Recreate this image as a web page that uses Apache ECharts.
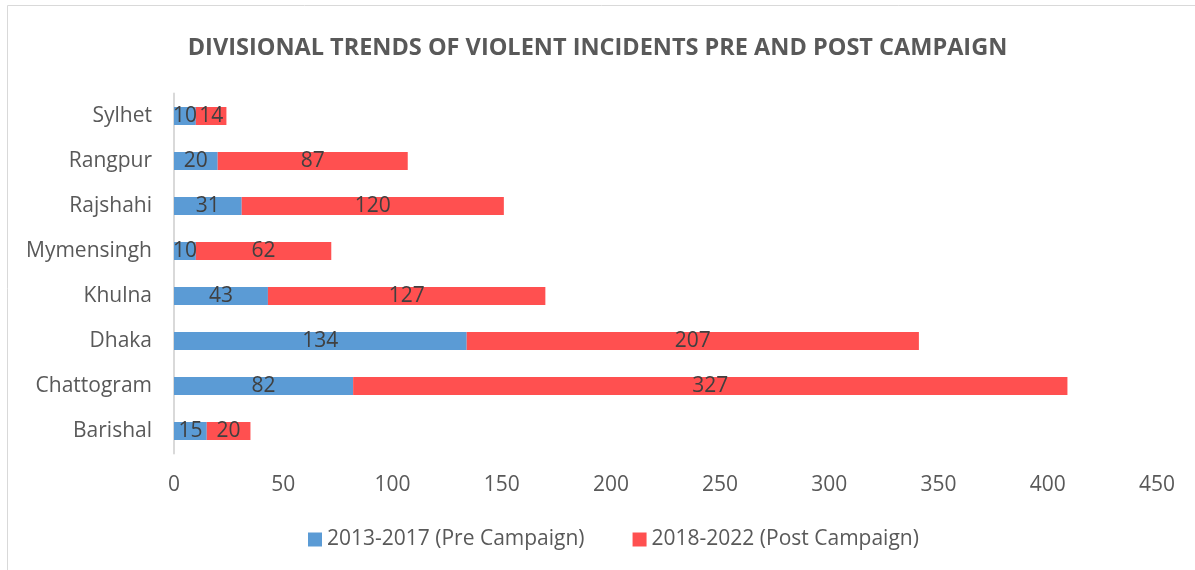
<!DOCTYPE html>
<html>
<head>
<meta charset="utf-8">
<script src="https://cdn.jsdelivr.net/npm/echarts@6/dist/echarts.min.js"></script>
<style>
  html, body { margin: 0; padding: 0; background: #fff; }
  #chart { width: 1195px; height: 570px; }
</style>
</head>
<body>
<div id="chart"></div>
<script>
// bottom to top, as the y axis draws them
var divisions = ['Barishal', 'Chattogram', 'Dhaka', 'Khulna', 'Mymensingh', 'Rajshahi', 'Rangpur', 'Sylhet']
var preCampaign = [15, 82, 134, 43, 10, 31, 20, 10]
var postCampaign = [20, 327, 207, 127, 62, 120, 87, 14]
var seriesNames = ['2013-2017 (Pre Campaign)', '2018-2022 (Post Campaign)']

var font = 'Open Sans'
var chart = echarts.init(document.getElementById('chart'))

var labelStyle = {
  show: true,
  position: 'inside',
  color: '#404040',
  fontFamily: font,
  fontSize: 21
}

chart.setOption({
  animation: false,
  title: {
    text: 'DIVISIONAL TRENDS OF VIOLENT INCIDENTS PRE AND POST CAMPAIGN',
    left: 'center',
    top: 31,
    textStyle: {
      fontFamily: font,
      fontWeight: 'bold',
      fontSize: 23.5,
      color: '#595959'
    }
  },
  graphic: [{
    type: 'rect',
    shape: { x: 7.5, y: 5.5, width: 1200, height: 600 },
    style: { fill: 'none', stroke: '#d9d9d9', lineWidth: 1 },
    silent: true
  }],
  legend: {
    bottom: 15,
    left: 303,
    itemWidth: 14,
    itemHeight: 14,
    itemGap: 48,
    icon: 'rect',
    textStyle: { fontFamily: font, fontSize: 21, color: '#595959' },
    data: seriesNames
  },
  grid: {
    left: 174,
    right: 38,
    top: 93.5,
    bottom: 116.5
  },
  xAxis: {
    type: 'value',
    min: 0,
    max: 450,
    interval: 50,
    axisLine: { show: false },
    axisTick: { show: false },
    splitLine: { show: false },
    axisLabel: {
      margin: 21,
      fontFamily: font,
      fontSize: 21,
      color: '#595959'
    }
  },
  yAxis: {
    type: 'category',
    data: divisions,
    axisLine: { lineStyle: { color: '#d9d9d9', width: 2 } },
    axisTick: { show: false },
    axisLabel: {
      margin: 22,
      fontFamily: font,
      fontSize: 21,
      color: '#595959'
    }
  },
  series: [
    {
      name: seriesNames[0],
      type: 'bar',
      stack: 'total',
      barWidth: '40%',
      data: preCampaign,
      itemStyle: { color: '#5b9bd5' },
      label: labelStyle
    },
    {
      name: seriesNames[1],
      type: 'bar',
      stack: 'total',
      barWidth: '40%',
      data: postCampaign,
      itemStyle: { color: '#ff5050' },
      label: labelStyle
    }
  ]
})
</script>
</body>
</html>
